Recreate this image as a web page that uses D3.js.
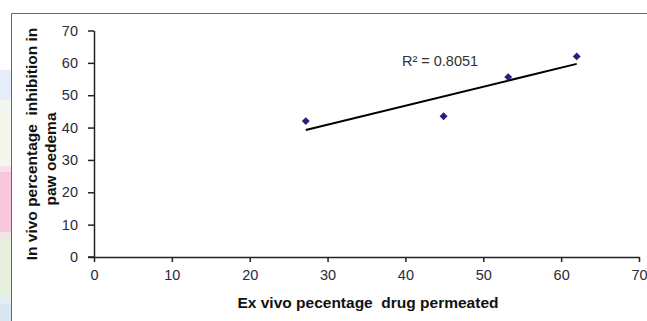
<!DOCTYPE html>
<html><head><meta charset="utf-8">
<script src="https://cdn.jsdelivr.net/npm/d3@7"></script>
<style>html,body{margin:0;padding:0;background:#fff;overflow:hidden} text{white-space:pre}</style>
</head><body>
<svg id="c" width="647" height="321"></svg>
<script>
const xValues = [27.2, 44.9, 53.2, 62.0];
const yValues = [42.0, 43.5, 55.6, 62.0];
const xTicks = [0, 10, 20, 30, 40, 50, 60, 70];
const yTicks = [0, 10, 20, 30, 40, 50, 60, 70];
const r2Label = "R² = 0.8051";
const xTitle = "Ex vivo pecentage  drug permeated";
const yTitle = ["In vivo percentage  inhibition in", "paw oedema"];
// decorative page-edge strips (from scanned page)
const strips = [
  {y0: 70, y1: 100, c: "#e4edf8"},
  {y0: 100, y1: 166, c: "#f3f7ee"},
  {y0: 166, y1: 172, c: "#f7e0ea"},
  {y0: 172, y1: 232, c: "#f8c7dc"},
  {y0: 232, y1: 240, c: "#ece8e2"},
  {y0: 240, y1: 296, c: "#e7f0dd"},
  {y0: 296, y1: 304, c: "#e4eef0"},
  {y0: 304, y1: 321, c: "#d7e7f4"}
];

const svg = d3.select("#c");
const font = "'Liberation Sans', Arial, sans-serif";

svg.selectAll("rect.strip").data(strips).join("rect")
  .attr("x", 0).attr("width", 11)
  .attr("y", d => d.y0).attr("height", d => d.y1 - d.y0)
  .attr("fill", d => d.c);

svg.append("path").attr("d", "M11.5,321V13.5H647")
  .attr("fill", "none").attr("stroke", "#666").attr("stroke-width", 1);

const x = d3.scaleLinear().domain([0, 70]).range([94, 639]);
const y = d3.scaleLinear().domain([0, 70]).range([257, 30.5]);

const ink = "#2b2b3a";

const xAxis = svg.append("g").attr("transform", `translate(0,${y(0)})`)
  .call(d3.axisBottom(x).tickValues(xTicks).tickSize(5).tickSizeOuter(0).tickPadding(8));
const yAxis = svg.append("g").attr("transform", `translate(${x(0)},0)`)
  .call(d3.axisLeft(y).tickValues(yTicks).tickSize(6).tickSizeOuter(0).tickPadding(10));
[xAxis, yAxis].forEach(g => {
  g.select(".domain").attr("stroke", "#222").attr("stroke-width", 1.5);
  g.selectAll(".tick line").attr("stroke", "#222").attr("stroke-width", 1.5);
  g.selectAll(".tick text").attr("fill", ink).attr("font-family", font).attr("font-size", 14.5);
});
svg.append("line").attr("x1", x(0) - 6).attr("x2", x(0)).attr("y1", y(0)).attr("y2", y(0))
  .attr("stroke", "#222").attr("stroke-width", 1.5);

// least squares trendline
const n = xValues.length;
const mx = d3.mean(xValues), my = d3.mean(yValues);
let sxy = 0, sxx = 0;
for (let i = 0; i < n; i++) { sxy += (xValues[i]-mx)*(yValues[i]-my); sxx += (xValues[i]-mx)**2; }
const slope = sxy / sxx, icpt = my - slope * mx;
const xMin = d3.min(xValues), xMax = d3.max(xValues);
svg.append("line")
  .attr("x1", x(xMin)).attr("y1", y(icpt + slope * xMin))
  .attr("x2", x(xMax)).attr("y2", y(icpt + slope * xMax))
  .attr("stroke", "#000").attr("stroke-width", 2);

const pts = xValues.map((v, i) => [v, yValues[i]]);
svg.selectAll("path.pt").data(pts).join("path")
  .attr("d", d3.symbol().type(d3.symbolDiamond2).size(40))
  .attr("transform", d => `translate(${x(d[0])},${y(d[1])})`)
  .attr("fill", "#23237a");

svg.append("text").attr("x", 440).attr("y", 66).attr("text-anchor", "middle")
  .attr("font-family", font).attr("font-size", 14.5).attr("fill", "#333").text(r2Label);

svg.append("text").attr("x", 368).attr("y", 308).attr("text-anchor", "middle")
  .attr("font-family", font).attr("font-size", 15.5).attr("font-weight", "bold").attr("fill", "#111")
  .text(xTitle);

const yt = svg.append("text").attr("transform", "translate(37,144) rotate(-90)")
  .attr("text-anchor", "middle").attr("font-family", font).attr("font-size", 15.5)
  .attr("font-weight", "bold").attr("fill", "#111");
yt.append("tspan").attr("x", 0).attr("y", 0).text(yTitle[0]);
yt.append("tspan").attr("x", -15).attr("y", 19).text(yTitle[1]);
</script>
</body></html>
